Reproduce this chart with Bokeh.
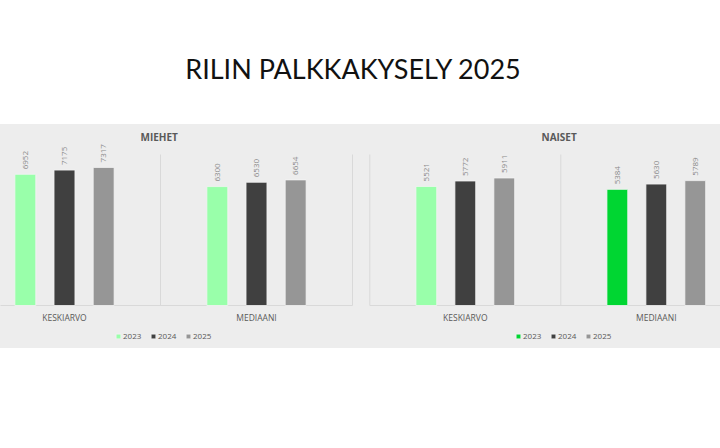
import math
from bokeh.plotting import figure
from bokeh.models import (ColumnDataSource, Range1d, LabelSet, Legend, LegendItem, Div)
from bokeh.core.properties import value
from bokeh.layouts import column, row
from bokeh.embed import file_html
from bokeh.resources import INLINE

# data
main_title = "RILIN PALKKAKYSELY 2025"
categories = ["KESKIARVO", "MEDIAANI"]
years = ["2023", "2024", "2025"]

miehet_2023 = [6952, 6300]
miehet_2024 = [7175, 6530]
miehet_2025 = [7317, 6654]

naiset_2023 = [5521, 5384]
naiset_2024 = [5772, 5630]
naiset_2025 = [5911, 5789]

PANEL = "#ededed"
GRID = "#d9d9d9"
TEXT = "#595959"
FONT = "Open Sans"

PLOT_H = 151    # px from baseline to top of the value axis
ABOVE = 162     # px of frame above the baseline (room for the value labels)
BELOW = 43      # px of frame below the baseline (category labels + legend)


def make_chart(name, series, colors, y_max, x_start, x_end, title_x, legend_x, legend_index):
    per_px = y_max / PLOT_H
    p = figure(width=360, height=224, x_range=Range1d(x_start, x_end),
               y_range=Range1d(-BELOW * per_px, ABOVE * per_px),
               output_backend="svg", toolbar_location=None,
               x_axis_location=None, y_axis_location=None,
               min_border_left=0, min_border_right=0, min_border_bottom=0,
               min_border_top=224 - ABOVE - BELOW)
    p.background_fill_color = PANEL
    p.border_fill_color = PANEL
    p.outline_line_color = None
    p.xgrid.grid_line_color = None
    p.ygrid.grid_line_color = None

    p.title.text = name
    p.title.align = "left"
    p.title.offset = title_x
    p.title.text_font = FONT
    p.title.text_font_size = "10px"
    p.title.text_font_style = "bold"
    p.title.text_color = TEXT
    p.title.standoff = 0

    n = len(categories)
    # category dividers and baseline
    p.segment(x0=list(range(n + 1)), y0=[0] * (n + 1), x1=list(range(n + 1)),
              y1=[y_max] * (n + 1), line_color=GRID, line_width=1)
    p.segment(x0=[0], y0=[0], x1=[n], y1=[0], line_color=GRID, line_width=1)

    cat_src = ColumnDataSource(dict(x=[i + 0.5 for i in range(n)], y=[0] * n, text=categories))
    p.add_layout(LabelSet(x="x", y="y", text="text", source=cat_src, y_offset=-12,
                          text_align="center", text_baseline="middle",
                          text_font=value(FONT), text_font_size="8.5px", text_color=TEXT))

    items = []
    for j, (yr, vals, col) in enumerate(zip(years, series, colors)):
        xs = [i + 0.5 + (j - 1) * 0.204 for i in range(n)]
        cols = col if isinstance(col, list) else [col] * len(vals)
        src = ColumnDataSource(dict(x=xs, top=vals, color=cols, label=[str(v) for v in vals]))
        r = p.vbar(x="x", top="top", width=0.109, source=src, fill_color="color",
                   line_color="#f4f4f4", line_width=0.8)
        p.add_layout(LabelSet(x="x", y="top", text="label", source=src, angle=math.pi / 2,
                              text_align="left", text_baseline="middle", y_offset=5,
                              text_font=value(FONT), text_font_size="8px",
                              text_color="#8a8a8a"))
        items.append(LegendItem(label=yr, renderers=[r], index=legend_index if j == 0 else 0))

    leg = Legend(items=items, orientation="horizontal", location=(legend_x, 7),
                 border_line_color=None, background_fill_alpha=0, padding=0, margin=0,
                 glyph_width=6, glyph_height=6, label_standoff=2, spacing=7, label_height=8,
                 label_text_font=FONT, label_text_font_size="8px", label_text_color=TEXT)
    p.add_layout(leg)
    return p


left = make_chart("MIEHET", [miehet_2023, miehet_2024, miehet_2025],
                  ["#99ffaa", "#404040", "#969696"], 8000, 0.1667, 2.0417, 140, 115, 0)
right = make_chart("NAISET", [naiset_2023, naiset_2024, naiset_2025],
                   [["#99ffaa", "#00d632"], "#404040", "#969696"], 7000, -0.0487, 1.8361, 181, 155, 1)

head = Div(text='<div style="width:720px;box-sizing:border-box;padding-top:50px;padding-right:14px;'
                'text-align:center;font-family:Lato;font-size:27px;color:#111;">' + main_title + '</div>',
           width=720, height=124, margin=0)

layout = column(head, row(left, right, styles={"background-color": PANEL}), spacing=0)

open("out.html", "w").write(file_html(layout, INLINE))
